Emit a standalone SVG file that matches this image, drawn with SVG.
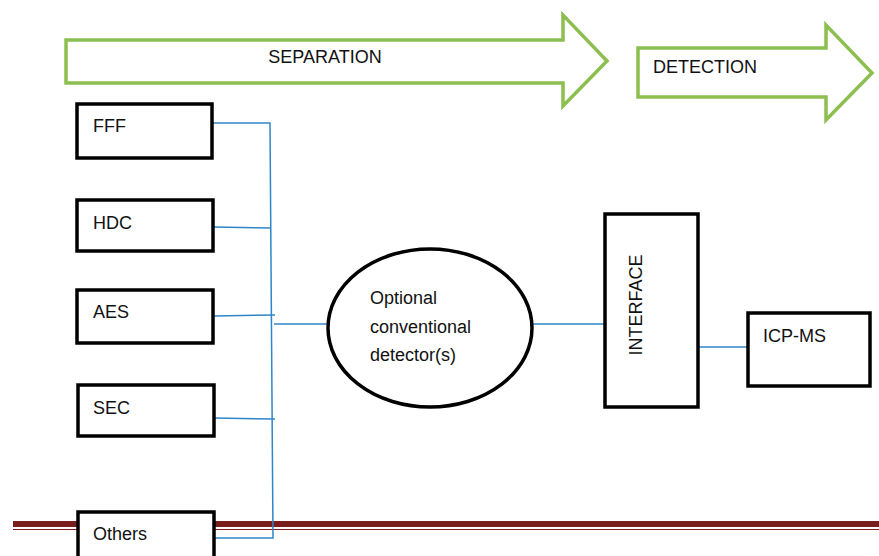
<svg xmlns="http://www.w3.org/2000/svg" width="879" height="556" viewBox="0 0 879 556">
<style>
.arrow{fill:#fff;stroke:#8cbf4f;stroke-width:3.5}
.box{fill:#fff;stroke:#000;stroke-width:3.5}
.conn{fill:none;stroke:#2e86c8;stroke-width:1.5}
text{font-family:"Liberation Sans",Arial,sans-serif;font-size:18px;fill:#111}
</style>
<rect width="879" height="556" fill="#fff"/>
<g id="rule">
<rect x="13" y="521" width="866" height="6" fill="#7a1e1e"/>
<line x1="13" y1="529.5" x2="879" y2="529.5" stroke="#7a1e1e" stroke-width="1"/>
</g>
<g id="separation">
<path class="arrow" d="M66,40 H563 V15 L607,61 L563,106 V83 H66 Z"/>
<text x="325" y="63" text-anchor="middle">SEPARATION</text>
</g>
<g id="detection">
<path class="arrow" d="M638,48 H826 V25 L872,73 L826,120 V97 H638 Z"/>
<text x="653" y="73">DETECTION</text>
</g>
<g id="connectors">
<polyline class="conn" points="213,123 270,123 273,538 215,538"/>
<line class="conn" x1="213" y1="227" x2="271" y2="228"/>
<line class="conn" x1="214" y1="316" x2="275" y2="315"/>
<line class="conn" x1="274" y1="324" x2="329" y2="324"/>
<line class="conn" x1="215" y1="418" x2="275" y2="419"/>
<line class="conn" x1="533" y1="324" x2="607" y2="324"/>
<line class="conn" x1="699" y1="347" x2="748" y2="347"/>
</g>
<g id="fff"><rect class="box" x="77" y="104" width="135" height="54"/><text x="93" y="132">FFF</text></g>
<g id="hdc"><rect class="box" x="77" y="200" width="136" height="51"/><text x="93" y="229">HDC</text></g>
<g id="aes"><rect class="box" x="77" y="290" width="136" height="53"/><text x="93" y="318">AES</text></g>
<g id="sec"><rect class="box" x="78" y="385" width="136" height="51"/><text x="93" y="414">SEC</text></g>
<g id="others"><rect class="box" x="78" y="512" width="136" height="50"/><text x="93" y="540">Others</text></g>
<g id="detector">
<ellipse class="box" cx="430" cy="328" rx="102" ry="79"/>
<text x="370" y="304">Optional</text>
<text x="370" y="333">conventional</text>
<text x="370" y="361">detector(s)</text>
</g>
<g id="interface">
<rect class="box" x="605" y="214" width="93" height="193"/>
<text transform="translate(642,305) rotate(-90)" text-anchor="middle">INTERFACE</text>
</g>
<g id="icpms"><rect class="box" x="748" y="313" width="122" height="73"/><text x="763" y="342">ICP-MS</text></g>
</svg>
